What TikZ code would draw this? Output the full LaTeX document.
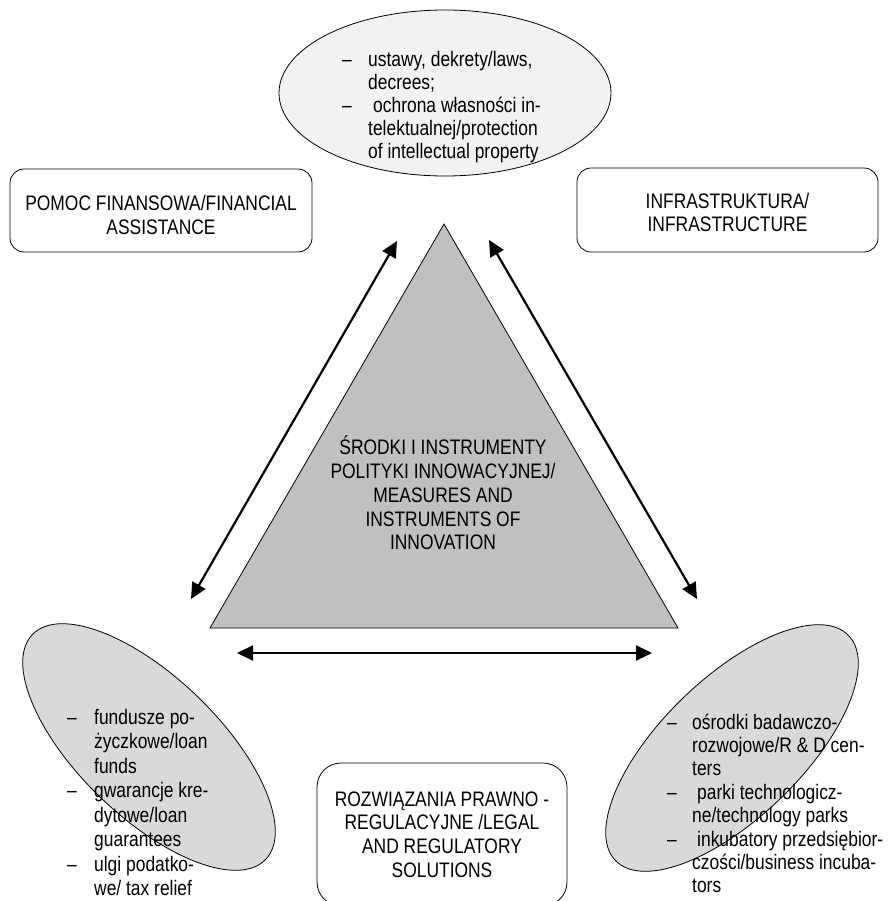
\documentclass[tikz,border=0pt]{standalone}
\usepackage{fontspec}
\setmainfont[FakeStretch=0.83]{Liberation Sans}
\usetikzlibrary{shapes.geometric,calc,positioning}
\usetikzlibrary{arrows.meta}
\tikzset{>={Triangle[width=15pt,length=16pt]}}
\definecolor{blob_gray}{RGB}{217,217,217}
\definecolor{blob_light}{RGB}{242,242,242}
\definecolor{core_gray}{RGB}{192,192,192}

\begin{document}
\begin{tikzpicture}[
		x=1pt,y=1pt,
		every node/.style={font=\fontsize{21}{23.8}\selectfont},
		box/.style={draw,line width=0.8pt,rounded corners=14pt,align=center,inner sep=0pt},
		blob/.style={draw,line width=0.8pt,ellipse,fill=blob_gray,inner sep=0pt},
		link/.style={<->,line width=2.2pt},
		list/.style={anchor=base west,inner sep=0pt},
	]
	\useasboundingbox (0,0) rectangle (887,-901);
	\clip (0,0) rectangle (887,-901);

	% list of items: dash column and text column
	\newcommand{\itemlist}[2]{%
		\begin{tabular}[t]{@{}p{#1}@{}l@{}}#2\end{tabular}}

	% ellipses
	\node[blob,fill=blob_light,minimum width=332pt,minimum height=166pt] (law) at (445,-93) {};
	\node[blob,minimum width=324pt,minimum height=140pt,rotate=-44] (money) at (149,-747) {};
	\node[blob,minimum width=324pt,minimum height=140pt,rotate=44] (infra) at (732,-748) {};

	% central triangle
	\filldraw[fill=core_gray,line width=0.8pt] (210,-628) -- (444,-224) -- (678,-628) -- cycle;
	\node[align=center] (core) at (443,-493) {ŚRODKI I INSTRUMENTY\\POLITYKI INNOWACYJNEJ/\\MEASURES AND\\INSTRUMENTS OF\\INNOVATION};

	% boxes
	\node[box,minimum width=302pt,minimum height=83pt,text height=47.6pt] (fin) at (161,-210.5) {POMOC FINANSOWA/FINANCIAL\\ASSISTANCE};
	\node[box,minimum width=301pt,minimum height=84pt,text height=44pt] (inf) at (727.5,-210) {INFRASTRUKTURA/\\INFRASTRUCTURE};
	\node[box,rounded corners=24pt,minimum width=250pt,minimum height=143pt] (reg) at (442,-834.5) {ROZWIĄZANIA PRAWNO -\\REGULACYJNE /LEGAL\\AND REGULATORY\\SOLUTIONS};

	% lists
	\node[list,font=\fontsize{21}{23}\selectfont] (law-txt) at (342,-67) {\itemlist{26pt}{%
			– & ustawy, dekrety/laws,\\
			  & decrees;\\
			– & \hspace{5pt}ochrona własności in-\\
			  & telektualnej/protection\\
			  & of intellectual property}};
	\node[list,font=\fontsize{21}{24.5}\selectfont] (money-txt) at (67,-724) {\itemlist{27pt}{%
			– & fundusze po-\\
			  & życzkowe/loan\\
			  & funds\\
			– & gwarancje kre-\\
			  & dytowe/loan\\
			  & guarantees\\
			– & ulgi podatko-\\
			  & we/ tax relief}};
	\node[list,font=\fontsize{21}{23.4}\selectfont] (infra-txt) at (667,-729) {\itemlist{25pt}{%
			– & ośrodki badawczo-\\
			  & rozwojowe/R \& D cen-\\
			  & ters\\
			– & \hspace{5pt}parki technologicz-\\
			  & ne/technology parks\\
			– & \hspace{5pt}inkubatory przedsiębior-\\
			  & czości/business incuba-\\
			  & tors}};

	% arrows
	\coordinate (left-top) at (397,-241);
	\coordinate (left-bot) at (191,-599);
	\coordinate (right-top) at (489,-240);
	\coordinate (right-bot) at (697,-599);
	\coordinate (base-left) at (237,-653);
	\coordinate (base-right) at (652,-653);

	\draw[link] (left-bot) -- (left-top);
	\draw[link] (right-top) -- (right-bot);
	\draw[link] (base-left) -- (base-right);

\end{tikzpicture}
\end{document}
